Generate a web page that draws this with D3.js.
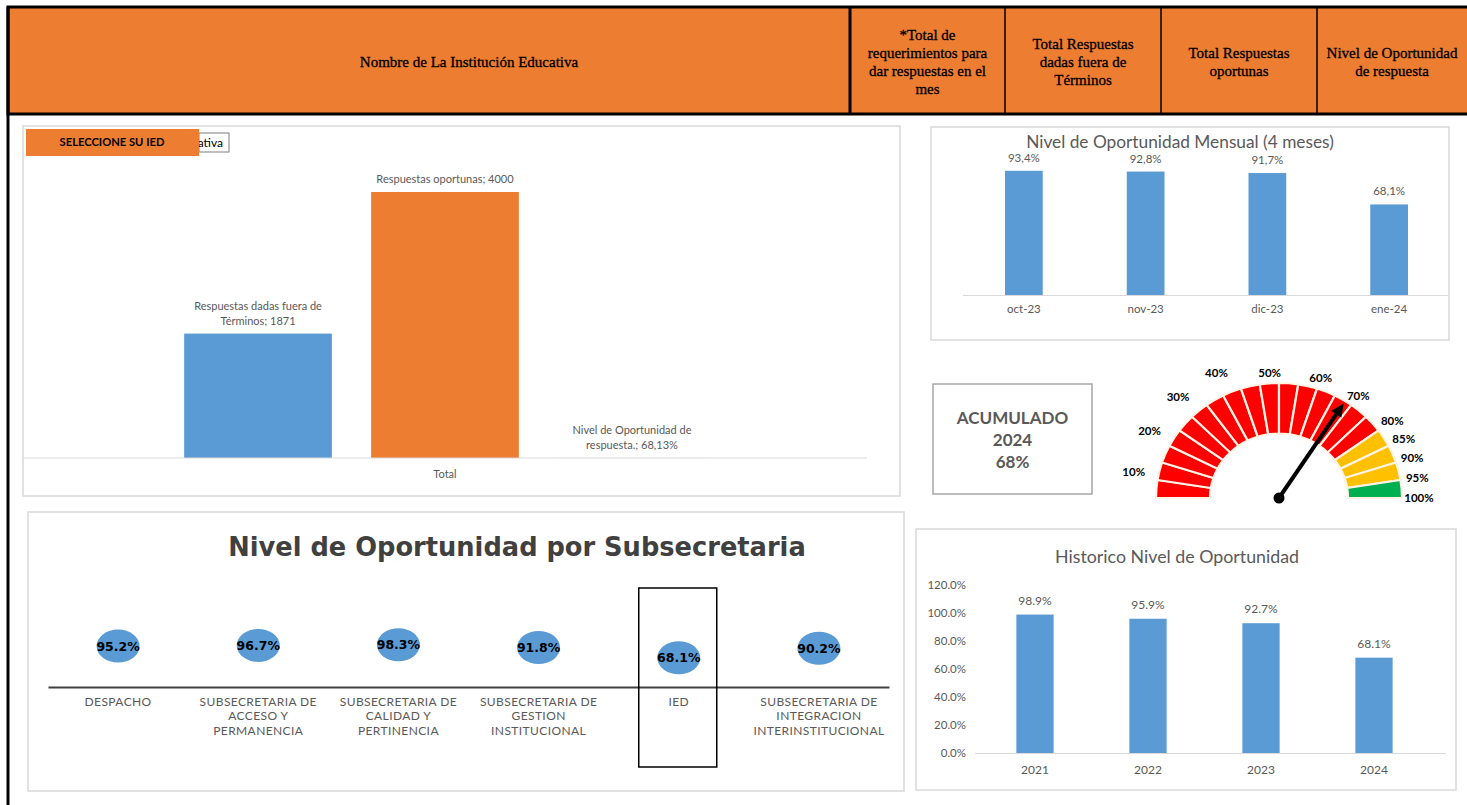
<!DOCTYPE html>
<html lang="es">
<head>
<meta charset="UTF-8">
<title>Nivel de Oportunidad</title>
<script src="https://d3js.org/d3.v7.min.js"></script>
<style>
  body { margin: 0; background: #fff; }
  svg { display: block; }
  .hdr { font-family: "Liberation Serif", serif; font-size: 15px; fill: #000; stroke: #000; stroke-width: 0.3; }
  .lbl { font-family: Lato, sans-serif; fill: #595959; }
  .box { fill: #fff; stroke: #d9d9d9; stroke-width: 1.5; }
</style>
</head>
<body>
<svg id="dash" width="1467" height="805"></svg>
<script>
// ---- data ----
const headerMain = "Nombre de La Institución Educativa";
const headerCols = [
  ["*Total de", "requerimientos para", "dar respuestas en el", "mes"],
  ["Total Respuestas", "dadas fuera de", "Términos"],
  ["Total Respuestas", "oportunas"],
  ["Nivel de Oportunidad", "de respuesta"]
];

const resumenCats = ["Respuestas dadas fuera de Términos", "Respuestas oportunas", "Nivel de Oportunidad de respuesta."];
const resumenVals = [1871, 4000, 0.6813];
const resumenText = ["1871", "4000", "68,13%"];
const resumenColors = ["#5b9bd5", "#ed7d31", "#a5a5a5"];

const meses = ["oct-23", "nov-23", "dic-23", "ene-24"];
const mensualVals = [93.4, 92.8, 91.7, 68.1];
const mensualText = ["93,4%", "92,8%", "91,7%", "68,1%"];

const gaugeSegments = [5, 10, 15, 20, 25, 30, 35, 40, 45, 50, 55, 60, 65, 70, 75, 80, 85, 90, 95, 100];
const gaugeLabels = [10, 20, 30, 40, 50, 60, 70, 80, 85, 90, 95, 100];
const gaugeValue = 68.13;
const acumulado = ["ACUMULADO", "2024", "68%"];

const subCats = ["DESPACHO", "SUBSECRETARIA DE ACCESO Y PERMANENCIA", "SUBSECRETARIA DE CALIDAD Y PERTINENCIA",
  "SUBSECRETARIA DE GESTION INSTITUCIONAL", "IED", "SUBSECRETARIA DE INTEGRACION INTERINSTITUCIONAL"];
const subVals = [95.2, 96.7, 98.3, 91.8, 68.1, 90.2];

const years = ["2021", "2022", "2023", "2024"];
const histVals = [98.9, 95.9, 92.7, 68.1];
const histTicks = [0, 20, 40, 60, 80, 100, 120];

// ---- helpers ----
// greedy word wrap of an svg text into tspans
function wrap(sel, width, lh) {
  sel.each(function() {
    const t = d3.select(this);
    const words = t.text().split(/\s+/);
    const x = t.attr("x") || 0;
    const y = +(t.attr("y") || 0);
    const dy = t.attr("dy") || 0;
    t.text(null).attr("dy", null);
    let line = [], n = 0;
    let tspan = t.append("tspan").attr("x", x).attr("y", y).attr("dy", dy);
    words.forEach(w => {
      line.push(w);
      tspan.text(line.join(" "));
      if (tspan.node().getComputedTextLength() > width && line.length > 1) {
        line.pop();
        tspan.text(line.join(" "));
        line = [w];
        n++;
        tspan = t.append("tspan").attr("x", x).attr("y", y + n * lh).attr("dy", dy).text(w);
      }
    });
    t.attr("data-lines", n + 1);
  });
}

const svg = d3.select("#dash");

// ---- header ----
const hdr = svg.append("g");
hdr.append("rect").attr("x", 8).attr("y", 7).attr("width", 1470).attr("height", 107)
  .attr("fill", "#ed7d31").attr("stroke", "#000").attr("stroke-width", 3);
const colEdges = [850, 1005, 1161, 1317, 1467];
colEdges.slice(0, 4).forEach((x, i) => {
  hdr.append("line").attr("x1", x).attr("x2", x).attr("y1", 7).attr("y2", 114)
    .attr("stroke", "#000").attr("stroke-width", i === 0 ? 3 : 1.5);
});
hdr.append("text").attr("class", "hdr").attr("x", 469).attr("y", 67)
  .attr("text-anchor", "middle").text(headerMain);
headerCols.forEach((lines, i) => {
  const cx = (colEdges[i] + colEdges[i + 1]) / 2;
  const y0 = 67 - (lines.length - 1) * 9;
  lines.forEach((l, j) => {
    hdr.append("text").attr("class", "hdr").attr("x", cx).attr("y", y0 + j * 18)
      .attr("text-anchor", "middle").text(l);
  });
});
svg.append("line").attr("x1", 8).attr("x2", 8).attr("y1", 7).attr("y2", 805)
  .attr("stroke", "#000").attr("stroke-width", 3);

// ---- resumen chart ----
const p1 = svg.append("g");
p1.append("rect").attr("class", "box").attr("x", 23).attr("y", 126).attr("width", 877).attr("height", 370)
  .attr("stroke", "#bfbfbf");
const xGroup = d3.scaleBand().domain(["Total"]).range([23, 867]);
const xSeries = d3.scaleBand().domain(resumenCats).range([0, xGroup.bandwidth()])
  .paddingInner(0.21).paddingOuter(0.862);
const y1 = d3.scaleLinear().domain([0, 4500]).range([458, 458 - 4500 * 0.0665]);

p1.selectAll("rect.bar").data(resumenCats).join("rect").attr("class", "bar")
  .attr("x", d => xGroup("Total") + xSeries(d))
  .attr("width", xSeries.bandwidth())
  .attr("y", (d, i) => y1(resumenVals[i]))
  .attr("height", (d, i) => y1(0) - y1(resumenVals[i]))
  .attr("fill", (d, i) => resumenColors[i]);

p1.append("line").attr("x1", 23).attr("x2", 867).attr("y1", y1(0)).attr("y2", y1(0))
  .attr("stroke", "#d9d9d9").attr("stroke-width", 1);
p1.append("text").attr("class", "lbl").attr("x", xGroup("Total") + xGroup.bandwidth() / 2).attr("y", 478)
  .attr("text-anchor", "middle").attr("font-size", 11).text("Total");

p1.selectAll("text.dl").data(resumenCats).join("text").attr("class", "lbl dl")
  .attr("x", d => xGroup("Total") + xSeries(d) + xSeries.bandwidth() / 2)
  .attr("y", 0)
  .attr("text-anchor", "middle").attr("font-size", 11)
  .text((d, i) => d + "; " + resumenText[i])
  .call(wrap, 146, 15)
  .each(function(d, i) {
    const n = +d3.select(this).attr("data-lines");
    d3.select(this).attr("transform", `translate(0,${y1(resumenVals[i]) - 9 - (n - 1) * 15})`);
  });

// selector (dropdown partly hidden behind the orange button)
p1.append("rect").attr("x", 199).attr("y", 133).attr("width", 30).attr("height", 19)
  .attr("fill", "#fff").attr("stroke", "#7f7f7f").attr("stroke-width", 1);
const dd = p1.append("svg").attr("x", 199).attr("y", 133).attr("width", 30).attr("height", 19);
dd.append("text").attr("x", 24).attr("y", 14).attr("text-anchor", "end")
  .attr("font-family", "Lato, sans-serif").attr("font-size", 12).attr("fill", "#000")
  .text("Institución Educativa");
p1.append("rect").attr("x", 26).attr("y", 129).attr("width", 173).attr("height", 27).attr("fill", "#ed7d31");
p1.append("text").attr("x", 112).attr("y", 146).attr("text-anchor", "middle")
  .attr("font-family", "Lato, sans-serif").attr("font-weight", "bold").attr("font-size", 11.2).attr("fill", "#000")
  .text("SELECCIONE SU IED");

// ---- mensual chart ----
const p2 = svg.append("g");
p2.append("rect").attr("class", "box").attr("x", 931).attr("y", 127).attr("width", 518).attr("height", 213);
p2.append("text").attr("class", "lbl").attr("x", 1180).attr("y", 148).attr("text-anchor", "middle")
  .attr("font-size", 17.3).text("Nivel de Oportunidad Mensual (4 meses)");
const x2 = d3.scaleBand().domain(meses).range([963, 1450]).paddingInner(0.69).paddingOuter(0.345);
const y2 = d3.scaleLinear().domain([0, 100]).range([295, 295 - 133]);
p2.selectAll("rect.bar").data(meses).join("rect").attr("class", "bar")
  .attr("x", d => x2(d)).attr("width", x2.bandwidth())
  .attr("y", (d, i) => y2(mensualVals[i])).attr("height", (d, i) => y2(0) - y2(mensualVals[i]))
  .attr("fill", "#5b9bd5");
p2.selectAll("text.dl").data(meses).join("text").attr("class", "lbl dl")
  .attr("x", d => x2(d) + x2.bandwidth() / 2).attr("y", (d, i) => y2(mensualVals[i]) - 9)
  .attr("text-anchor", "middle").attr("font-size", 11.5).text((d, i) => mensualText[i]);
const ax2 = p2.append("g").attr("transform", `translate(0,${y2(0)})`)
  .call(d3.axisBottom(x2).tickSize(0).tickPadding(10));
ax2.select(".domain").attr("stroke", "#d9d9d9").attr("d", "M963,0.5H1448");
ax2.selectAll("text").attr("font-family", "Lato, sans-serif").attr("font-size", 11.5).attr("fill", "#595959");

// ---- acumulado ----
const p3 = svg.append("g");
p3.append("rect").attr("x", 933).attr("y", 384).attr("width", 159).attr("height", 110)
  .attr("fill", "#fff").attr("stroke", "#a6a6a6").attr("stroke-width", 1.5);
acumulado.forEach((t, i) => {
  p3.append("text").attr("x", 1012.5).attr("y", 424 + i * 22).attr("text-anchor", "middle")
    .attr("font-family", "Lato, sans-serif").attr("font-weight", "bold").attr("font-size", 17)
    .attr("fill", "#595959").text(t);
});

// ---- gauge ----
const gc = { x: 1279, y: 498, sy: 0.935 };
const ang = d3.scaleLinear().domain([0, 100]).range([-Math.PI / 2, Math.PI / 2]);
const segColor = v => v <= 80 ? "#ff0000" : v <= 95 ? "#ffc000" : "#00b050";
const arc = d3.arc().innerRadius(69).outerRadius(123);
const gg = p3.append("g").attr("transform", `translate(${gc.x},${gc.y}) scale(1,${gc.sy})`);
gg.selectAll("path").data(gaugeSegments).join("path")
  .attr("d", (v, i) => arc({ startAngle: ang(i === 0 ? 0 : gaugeSegments[i - 1]), endAngle: ang(v) }))
  .attr("fill", v => segColor(v)).attr("stroke", "#fff3e6").attr("stroke-width", 2.2);

p3.selectAll("text.gl").data(gaugeLabels).join("text").attr("class", "gl")
  .each(function(v) {
    const a = ang(v) + (v < 50 ? -7 : v === 50 ? -4 : 0) * Math.PI / 180;
    const r = v < 50 ? 148 : v === 50 ? 134 : v <= 70 ? 135 : 140;
    d3.select(this).attr("x", gc.x + r * Math.sin(a)).attr("y", gc.y - gc.sy * r * Math.cos(a));
  })
  .attr("dy", "0.35em").attr("text-anchor", "middle")
  .attr("font-family", "Lato, sans-serif").attr("font-weight", "bold").attr("font-size", 11.5).attr("fill", "#000")
  .text(v => v + "%");

// needle
const na = ang(gaugeValue), nl = 120;
const tip = [gc.x + nl * Math.sin(na), gc.y - gc.sy * nl * Math.cos(na)];
const dirx = tip[0] - gc.x, diry = tip[1] - gc.y, dl = Math.hypot(dirx, diry);
const ux = dirx / dl, uy = diry / dl;
const base = [tip[0] - ux * 13, tip[1] - uy * 13];
p3.append("line").attr("x1", gc.x).attr("y1", gc.y).attr("x2", base[0]).attr("y2", base[1])
  .attr("stroke", "#000").attr("stroke-width", 4);
p3.append("path").attr("fill", "#000")
  .attr("d", `M${tip[0]},${tip[1]}L${base[0] - uy * 6},${base[1] + ux * 6}L${base[0] + uy * 6},${base[1] - ux * 6}Z`);
p3.append("circle").attr("cx", gc.x).attr("cy", gc.y).attr("r", 5.5).attr("fill", "#000");

// ---- subsecretaria ----
const p4 = svg.append("g");
p4.append("rect").attr("class", "box").attr("x", 28).attr("y", 512).attr("width", 876).attr("height", 279);
p4.append("text").attr("x", 517).attr("y", 556).attr("text-anchor", "middle")
  .attr("font-family", "DejaVu Sans, sans-serif").attr("font-weight", "bold").attr("font-size", 25.7)
  .attr("fill", "#404040").text("Nivel de Oportunidad por Subsecretaria");
const x4 = d3.scaleBand().domain(subCats).range([48, 889]);
const y4 = d3.scaleLinear().domain([0, 100]).range([687, 644]);
const ax4 = p4.append("g").attr("transform", `translate(0,${y4(0)})`)
  .call(d3.axisBottom(x4).tickSize(0).tickPadding(10));
ax4.select(".domain").attr("stroke", "#404040").attr("stroke-width", 2);
ax4.selectAll("text").attr("font-family", "Lato, sans-serif").attr("font-size", 12)
  .attr("letter-spacing", 0.4).attr("fill", "#595959")
  .call(wrap, 136, 14.5);
// IED highlight box
const iedX = x4("IED") + x4.bandwidth() / 2;
p4.append("rect").attr("x", iedX - 40).attr("y", 588).attr("width", 78).attr("height", 179)
  .attr("fill", "none").attr("stroke", "#000").attr("stroke-width", 1.5);
p4.selectAll("ellipse").data(subCats).join("ellipse")
  .attr("cx", d => x4(d) + x4.bandwidth() / 2).attr("cy", (d, i) => y4(subVals[i]))
  .attr("rx", 21.5).attr("ry", 16.5).attr("fill", "#5b9bd5");
p4.selectAll("text.dl").data(subCats).join("text").attr("class", "dl")
  .attr("x", d => x4(d) + x4.bandwidth() / 2).attr("y", (d, i) => y4(subVals[i]))
  .attr("dy", "0.36em").attr("text-anchor", "middle")
  .attr("font-family", "DejaVu Sans, sans-serif").attr("font-weight", "bold").attr("font-size", 12.5)
  .attr("fill", "#000").text((d, i) => subVals[i].toFixed(1) + "%");

// ---- historico ----
const p5 = svg.append("g");
p5.append("rect").attr("class", "box").attr("x", 916).attr("y", 529).attr("width", 540).attr("height", 261);
p5.append("text").attr("class", "lbl").attr("x", 1177).attr("y", 563).attr("text-anchor", "middle")
  .attr("font-size", 17.8).text("Historico Nivel de Oportunidad");
const x5 = d3.scaleBand().domain(years).range([978.5, 1430.5]).paddingInner(0.67).paddingOuter(0.335);
const y5 = d3.scaleLinear().domain([0, 120]).range([753, 753 - 168]);
const ay5 = p5.append("g").attr("transform", "translate(970,0)")
  .call(d3.axisLeft(y5).tickValues(histTicks).tickSize(0).tickPadding(4).tickFormat(d => d.toFixed(1) + "%"));
ay5.select(".domain").remove();
ay5.selectAll("text").attr("font-family", "Lato, sans-serif").attr("font-size", 11.5).attr("fill", "#595959");
p5.selectAll("rect.bar").data(years).join("rect").attr("class", "bar")
  .attr("x", d => x5(d)).attr("width", x5.bandwidth())
  .attr("y", (d, i) => y5(histVals[i])).attr("height", (d, i) => y5(0) - y5(histVals[i]))
  .attr("fill", "#5b9bd5");
p5.selectAll("text.dl").data(years).join("text").attr("class", "lbl dl")
  .attr("x", d => x5(d) + x5.bandwidth() / 2).attr("y", (d, i) => y5(histVals[i]) - 10)
  .attr("text-anchor", "middle").attr("font-size", 12).text((d, i) => histVals[i].toFixed(1) + "%");
const ax5 = p5.append("g").attr("transform", `translate(0,${y5(0)})`)
  .call(d3.axisBottom(x5).tickSize(0).tickPadding(12));
ax5.select(".domain").attr("stroke", "#d9d9d9").attr("d", "M975,0.5H1446");
ax5.selectAll("text").attr("font-family", "Lato, sans-serif").attr("font-size", 12).attr("fill", "#595959");
</script>
</body>
</html>
